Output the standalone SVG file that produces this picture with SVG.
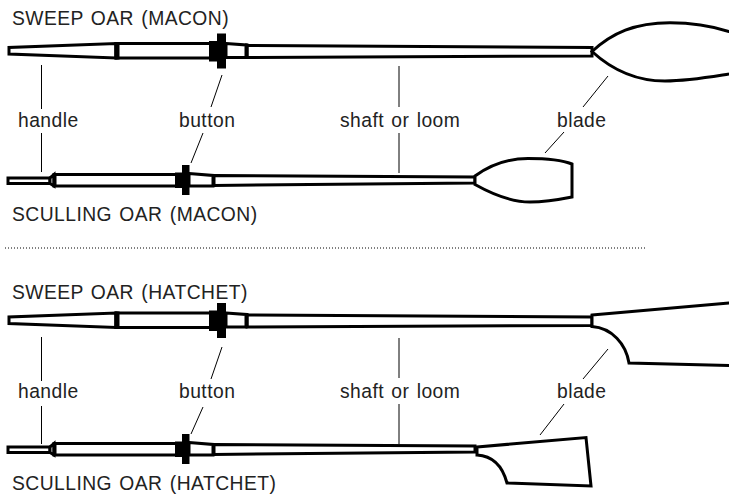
<svg xmlns="http://www.w3.org/2000/svg" width="729" height="494" viewBox="0 0 729 494">
<style>
text{font-family:"Liberation Sans",Arial,sans-serif;font-size:19.3px;letter-spacing:.45px;word-spacing:1.5px;fill:#222}
.w{fill:#fff;stroke:#000;stroke-width:3;stroke-linejoin:miter}
.k{fill:#000}
.l{stroke:#000;stroke-width:1;fill:none}
</style>
<rect width="729" height="494" fill="#fff"/>
<defs>
<g id="sweep">
<path class="w" d="M9 47.500V54L116 58V43.500Z"/>
<path class="w" d="M116 43.500H212V58H116Z"/>
<rect class="k" x="114.500" y="42" width="5" height="17.500"/>
<rect class="k" x="209" y="41" width="8" height="20.500"/>
<rect class="k" x="217" y="33.500" width="9" height="35"/>
<path class="w" d="M226 43.500L246 45V57.500H226Z"/>
<path class="w" d="M247 45.500L592 47.500V56L247 57.500Z"/>
<rect class="k" x="245" y="43.500" width="3.500" height="15"/>
</g>
<g id="scull">
<path class="w" d="M8 178V183.500H50V178Z"/>
<path class="w" d="M50 178L54 174.500V186L50 183.500Z"/>
<path class="w" d="M54 174.500H178V186H54Z"/>
<rect class="k" x="53" y="173.500" width="3.500" height="13.500"/>
<rect class="k" x="175" y="172.500" width="7" height="15.500"/>
<rect class="k" x="182" y="165" width="7.500" height="30"/>
<path class="w" d="M189 173.500L213 175.500V186H189Z"/>
<path class="w" d="M214 175.500L475 177V183L214 185.500Z"/>
<rect class="k" x="212" y="174.500" width="3" height="12.500"/>
</g>
</defs>
<g id="sweep-macon">
<text x="12" y="25">SWEEP OAR (MACON)</text>
<use href="#sweep"/>
<path id="blade-sweep-macon" class="w" d="M592 51.500C612 33 635 22.700 670 22.700C692 22.700 715 27 729 31.500L770 45V65L729 74C710 77 688 81 665 81C635 81 610 68 592 51.500Z"/>
</g>
<g id="scull-macon">
<use href="#scull"/>
<path id="blade-scull-macon" class="w" d="M475 176C490 165 508 158.500 528 158.500C547 158.500 562 160 572 164V197C562 199 547 202 530 202C510 202 492 194 475 184.500Z"/>
<text x="12" y="221">SCULLING OAR (MACON)</text>
</g>
<g id="sweep-hatchet">
<text x="12" y="299">SWEEP OAR (HATCHET)</text>
<use href="#sweep" transform="translate(0,269.500)"/>
<path id="blade-sweep-hatchet" class="w" d="M592 315L729 303L770 299V366L729 365.500L629 363C626 344 612 328 592 326.500Z"/>
</g>
<g id="scull-hatchet">
<use href="#scull" transform="translate(0,269)"/>
<path id="blade-scull-hatchet" class="w" d="M477 447L586 437.500L591 486L507 483C503 468 494 456 477 455Z"/>
<text x="12" y="490">SCULLING OAR (HATCHET)</text>
</g>
<g id="labels">
<text x="18" y="127">handle</text>
<text x="179" y="127">button</text>
<text x="340" y="127">shaft or loom</text>
<text x="557" y="127">blade</text>
<text x="18" y="398">handle</text>
<text x="179" y="398">button</text>
<text x="340" y="398">shaft or loom</text>
<text x="557" y="398">blade</text>
</g>
<g id="connectors">
<path class="l" d="M41.500 65V109M41.500 133V172M222 75L211 107M203 133L191 163M399 66V107M399 133V173M608 76L583 107M564 132L545 153"/>
<path class="l" d="M41.500 337V381M41.500 406V444M222 347L211 379M203 407L191 434M399 338V378M399 404V444M608 349L583 379M564 404L540 435"/>
<path d="M5 248H647" stroke="#000" stroke-width="1" stroke-dasharray="1 2" fill="none"/>
</g>
</svg>
